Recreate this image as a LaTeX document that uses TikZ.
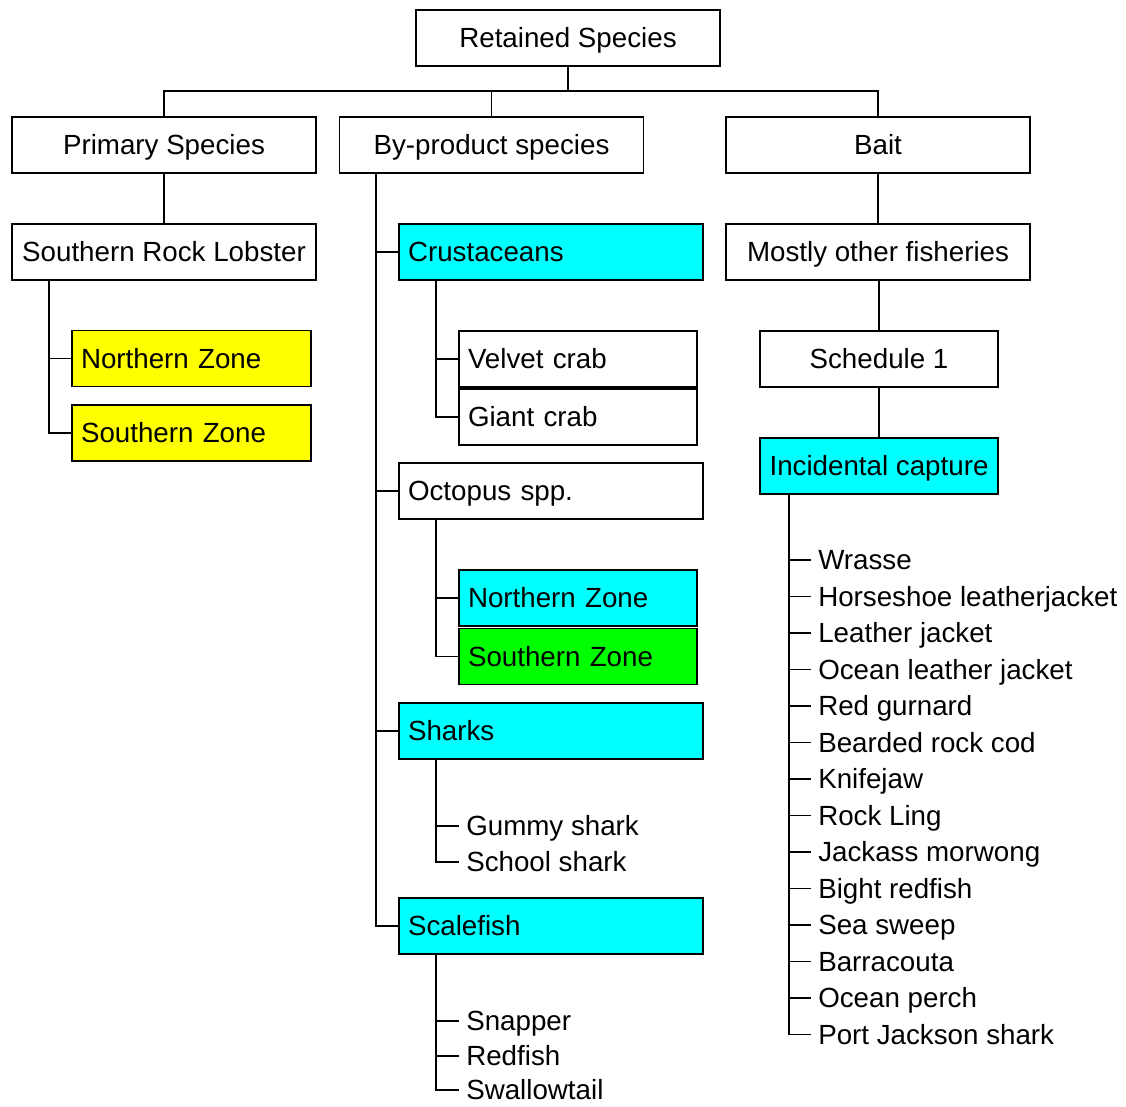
\documentclass[tikz,border=0pt]{standalone}
\usepackage{fontspec}
\setmainfont{Liberation Sans}
\definecolor{boxcyan}{RGB}{0,255,255}
\definecolor{boxyellow}{RGB}{255,255,0}
\definecolor{boxgreen}{RGB}{0,255,0}
\begin{document}
\begin{tikzpicture}[x=0.75pt,y=-0.75pt,
  every node/.style={font=\fontsize{20.8}{24}\selectfont, text height=14.8pt, text depth=0pt},
  box/.style={draw=black, line width=1.1pt, minimum height=42pt, inner xsep=6.75pt, inner ysep=0pt},
  wide/.style={minimum width=228pt},
  narrow/.style={minimum width=178.5pt},
  leftwide/.style={wide, text width=214.5pt, align=left},
  leftnarrow/.style={narrow, text width=165pt, align=left},
  cyanbox/.style={box, fill=boxcyan},
  yellowbox/.style={box, fill=boxyellow},
  greenbox/.style={box, fill=boxgreen},
  item/.style={anchor=west, inner xsep=5.25pt, inner ysep=0pt},
  link/.style={draw=black, line width=1.2pt}
]
\useasboundingbox (0,0) rectangle (1126,1106);

% top levels
\node[box, wide] (ret) at (568,38) {Retained Species};
\node[box, wide] (prim) at (164,145) {Primary Species};
\node[box, wide] (by) at (491.5,145) {By-product species};
\node[box, wide] (bait) at (878,145) {Bait};
\coordinate (bus) at (568,91);
\draw[link] (ret.south) -- (bus);
\draw[link] (prim.north) |- (bus) -| (bait.north);
\draw[link] (bus) -| (by.north);

% primary species branch
\node[box, wide] (srl) at (164,252) {Southern Rock Lobster};
\draw[link] (prim.south) -- (srl.north);
\node[yellowbox, minimum width=179.25pt, text width=165.75pt, align=left] (pnz) at (191.5,358.5) {Northern Zone};
\node[yellowbox, minimum width=179.25pt, text width=165.75pt, align=left] (psz) at (191.5,433) {Southern Zone};
\coordinate (srlt) at (49,280);
\draw[link] (srlt) |- (pnz.west);
\draw[link] (srlt) |- (psz.west);

% by-product branch
\coordinate (byt) at (376,173);
\node[cyanbox, leftwide] (crus) at (551,252) {Crustaceans};
\node[box, leftwide] (oct) at (551,491) {Octopus spp.};
\node[cyanbox, leftwide] (shk) at (551,731) {Sharks};
\node[cyanbox, leftwide] (scf) at (551,926) {Scalefish};
\foreach \n in {crus,oct,shk,scf} \draw[link] (byt) |- (\n.west);

% crustaceans
\node[box, leftnarrow] (vel) at (578,359) {Velvet crab};
\node[box, leftnarrow] (gia) at (578,417) {Giant crab};
\coordinate (crust) at (436,280);
\draw[link] (crust) |- (vel.west);
\draw[link] (crust) |- (gia.west);

% octopus
\node[cyanbox, leftnarrow] (onz) at (578,598) {Northern Zone};
\node[greenbox, leftnarrow] (osz) at (578,656.5) {Southern Zone};
\coordinate (octt) at (436,519);
\draw[link] (octt) |- (onz.west);
\draw[link] (octt) |- (osz.west);

% sharks
\coordinate (shkt) at (436,759);
\node[item] (gum) at (459,826) {Gummy shark};
\node[item] (sch) at (459,862) {School shark};
\foreach \n in {gum,sch} \draw[link] (shkt) |- (\n.west);

% scalefish
\coordinate (scft) at (436,954);
\node[item] (snp) at (459,1021) {Snapper};
\node[item] (red) at (459,1056) {Redfish};
\node[item] (swt) at (459,1090) {Swallowtail};
\foreach \n in {snp,red,swt} \draw[link] (scft) |- (\n.west);

% bait branch
\node[box, wide] (mof) at (878,252) {Mostly other fisheries};
\node[box, narrow] (sc1) at (879,359) {Schedule 1};
\node[cyanbox, narrow] (inc) at (879,466) {Incidental capture};
\draw[link] (bait.south) -- (mof.north);
\draw[link] (mof.south -| sc1.north) -- (sc1.north);
\draw[link] (sc1.south) -- (inc.north);

\coordinate (inct) at (789,494);
\foreach \t [count=\i from 0] in {Wrasse, Horseshoe leatherjacket, Leather jacket,
    Ocean leather jacket, Red gurnard, Bearded rock cod, Knifejaw, Rock Ling,
    Jackass morwong, Bight redfish, Sea sweep, Barracouta, Ocean perch, Port Jackson shark}
{
  \node[item] (ic\i) at (811,560+36.5*\i) {\t};
  \draw[link] (inct) |- (ic\i.west);
}
\end{tikzpicture}
\end{document}
